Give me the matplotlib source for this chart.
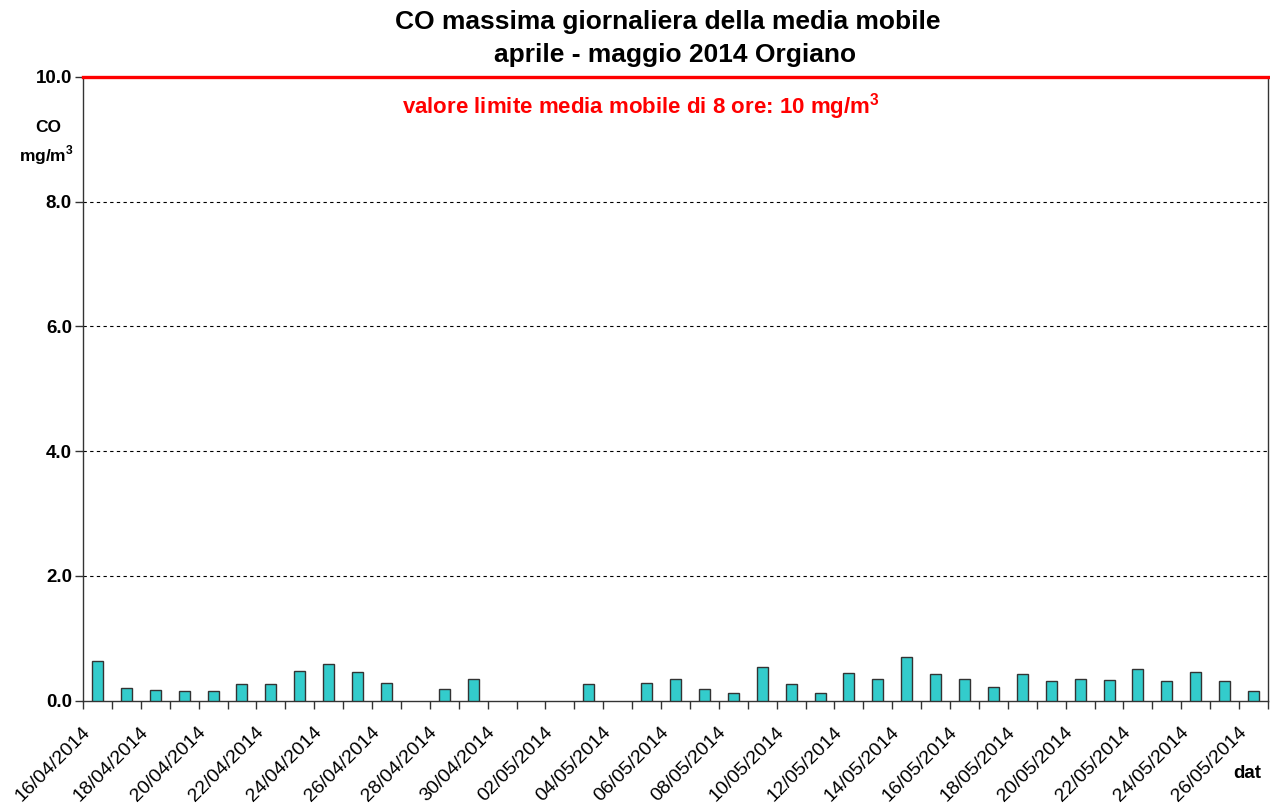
import numpy as np
import matplotlib.pyplot as plt
from matplotlib.transforms import ScaledTranslation

plt.rcParams['font.family'] = ['Liberation Sans', 'DejaVu Sans']
plt.rcParams['mathtext.fontset'] = 'custom'
plt.rcParams['mathtext.rm'] = 'Liberation Sans'
plt.rcParams['mathtext.bf'] = 'Liberation Sans:bold'

# daily dates 16/04/2014 .. 26/05/2014
dates = [f"{d:02d}/04/2014" for d in range(16, 31)] + [f"{d:02d}/05/2014" for d in range(1, 27)]
nan = np.nan
co_max = [0.64, 0.20, 0.17, 0.15, 0.15, 0.26, 0.26, 0.48, 0.59, 0.46,
          0.29, nan, 0.18, 0.35, nan, nan, nan, 0.26, nan, 0.29,
          0.35, 0.18, 0.13, 0.54, 0.26, 0.13, 0.44, 0.35, 0.70, 0.43,
          0.35, 0.22, 0.43, 0.32, 0.35, 0.33, 0.51, 0.32, 0.46, 0.32,
          0.15]
limit = 10.0
yticks = [0.0, 2.0, 4.0, 6.0, 8.0, 10.0]

fig = plt.figure(figsize=(12.7, 8.1), dpi=100)
ax = fig.add_axes([83 / 1270, 1 - 700.7 / 810, 1185 / 1270, (700.7 - 76.7) / 810])

x = np.arange(len(dates))
ax.bar(x, co_max, width=0.38, color='#33CCCC', edgecolor='#333333', linewidth=1.0, zorder=3)

ax.axhline(limit, color='#FF0000', linewidth=2.4, zorder=4, clip_on=False)

ax.set_xlim(-0.5, len(dates) - 0.5)
ax.set_ylim(0, 10)
ax.set_yticks(yticks)
ax.set_yticklabels([f"{v:.1f}" for v in yticks], fontweight='bold', fontsize=13.5)
for v in yticks[1:-1]:
    ax.axhline(v, color='black', linestyle=(0, (3, 3)), linewidth=0.8, zorder=1)

# tick marks at category boundaries, labels on every other day
ax.set_xticks(np.arange(len(dates) + 1) - 0.5)
ax.set_xticklabels([])
ax.set_xticks(x[::2], minor=True)
ax.set_xticklabels(dates[::2], minor=True, rotation=45, ha='right', va='center',
                   rotation_mode='anchor', fontsize=14)
ax.tick_params(axis='x', which='major', direction='out', length=6, width=1, color='#333333')
ax.tick_params(axis='x', which='minor', length=0, pad=21)
ax.tick_params(axis='y', direction='out', length=6, width=1, color='#333333', pad=2)
offset = ScaledTranslation(-7 / 72, 0, fig.dpi_scale_trans)
for lbl in ax.get_xticklabels(minor=True):
    lbl.set_transform(lbl.get_transform() + offset)

for s in ax.spines.values():
    s.set_color('#333333')
    s.set_linewidth(1.0)

fig.text(668 / 1270, 1 - 22 / 810, "CO massima giornaliera della media mobile",
         ha='center', va='center', fontsize=19, fontweight='bold')
fig.text(675 / 1270, 1 - 55 / 810, "aprile - maggio 2014 Orgiano",
         ha='center', va='center', fontsize=19, fontweight='bold')
fig.text(641 / 1270, 1 - 107 / 810, r"valore limite media mobile di 8 ore: 10 mg/m$^{\mathbf{3}}$",
         ha='center', va='center', fontsize=16, fontweight='bold', color='#FF0000')
fig.text(48 / 1270, 1 - 128 / 810, "CO", ha='center', va='center', fontsize=12.5, fontweight='bold')
fig.text(46 / 1270, 1 - 155 / 810, r"mg/m$^{\mathbf{3}}$", ha='center', va='center',
         fontsize=12.5, fontweight='bold')
fig.text(1247 / 1270, 1 - 773 / 810, "dat", ha='center', va='center', fontsize=13.5, fontweight='bold')

fig.savefig('out.png', dpi=100)
